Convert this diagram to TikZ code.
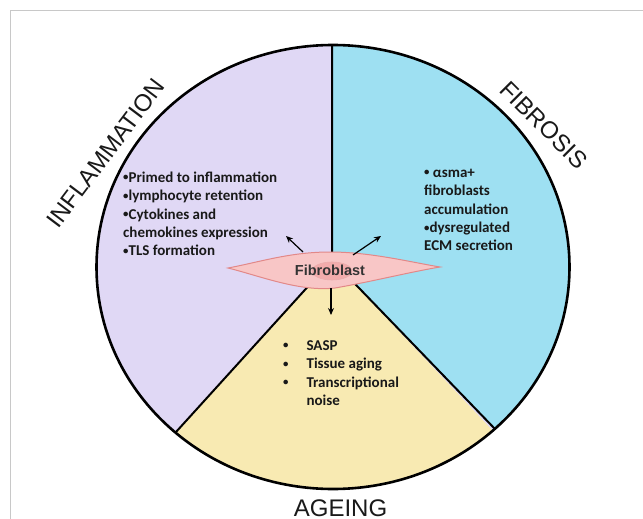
\documentclass[tikz,border=0pt]{standalone}
\usepackage{fontspec}
\usepackage{graphicx}
\setmainfont{Liberation Sans}
\newfontfamily\bodyfont{Carlito}
\usetikzlibrary{arrows.meta}

\definecolor{lavender}{RGB}{224,216,245}
\definecolor{skyblue}{RGB}{158,224,242}
\definecolor{sand}{RGB}{248,234,178}
\definecolor{cellfill}{RGB}{248,198,198}
\definecolor{cellline}{RGB}{226,136,136}
\definecolor{nucfill}{RGB}{242,172,172}
\definecolor{framegray}{RGB}{200,200,200}
\definecolor{ink}{RGB}{25,25,25}

% small list bullet
\newcommand{\smalldot}{\raisebox{0.18ex}{\scalebox{0.72}{•}}}

\tikzset{
  listtext/.style={font=\bodyfont\bfseries\fontsize{15}{18.5}\selectfont,
    text=ink, inner sep=0pt, anchor=base west},
  sectorlabel/.style={font=\fontsize{24}{28}\selectfont, text=ink, inner sep=0pt},
  divider/.style={line width=2pt, black},
  outline/.style={line width=2.6pt, black},
  pointer/.style={line width=1.2pt, black, -{Stealth[length=7pt,width=6pt]}},
}

\begin{document}
\begin{tikzpicture}[x=1pt,y=-1pt]
  \useasboundingbox (0,0) rectangle (643,519);

  % light frame around the figure
  \draw[framegray, line width=1pt] (10,530) -- (10,11) -- (660,11);

  % three sectors of the disc
  \begin{scope}
    \clip (333,267) ellipse [x radius=236.5pt, y radius=222pt];
    \fill[lavender] (0,0) rectangle (643,519);
    \fill[skyblue] (332,0) -- (332,260) -- (576,513) -- (643,519) -- (643,0) -- cycle;
    \fill[sand] (332,260) -- (98,518) -- (576,519) -- cycle;
  \end{scope}

  \coordinate (hub) at (332,260);
  \coordinate (top) at (332,45);
  \coordinate (lowleft) at (176,432);
  \coordinate (lowright) at (495,429);
  \draw[divider] (top) -- (hub) -- (lowleft);
  \draw[divider] (hub) -- (lowright);
  \draw[outline] (333,267) ellipse [x radius=236.5pt, y radius=222pt];

  % sector titles
  \node[sectorlabel, rotate=53] (inflabel) at (105.5,153) {INFLAMMATION};
  \node[sectorlabel, rotate=-45] (fiblabel) at (544,125) {FIBROSIS};
  \node[sectorlabel, anchor=base] (agelabel) at (340.5,516) {AGEING};

  % fibroblast cell
  \draw[cellline, fill=cellfill, line width=1pt]
    (228,268) .. controls (260,262) and (290,252) .. (330,252)
              .. controls (370,252) and (410,262) .. (440,267)
              .. controls (410,272) and (370,282) .. (335,288)
              .. controls (300,292) and (260,276) .. (228,268) -- cycle;
  \draw[cellline!70, fill=nucfill, line width=0.6pt] (332,271) ellipse [x radius=20pt, y radius=9pt];
  \node[font=\bfseries\fontsize{14.5}{17}\selectfont, text=black!80, inner sep=0pt] (fib) at (330,270) {Fibroblast};

  % arrows out of the cell
  \coordinate (tailA) at (303,252);
  \coordinate (tipA) at (286,236);
  \coordinate (tailB) at (353,255);
  \coordinate (tipB) at (381,236);
  \coordinate (tailC) at (331,288);
  \coordinate (tipC) at (331,315);
  \draw[pointer] (tailA) -- (tipA);
  \draw[pointer] (tailB) -- (tipB);
  \draw[pointer] (tailC) -- (tipC);

  % sector texts
  \node[listtext] (inftext) at (123,182) {\begin{tabular}[t]{@{}l@{}}
    \smalldot Primed to inflammation\\
    \smalldot lymphocyte retention\\
    \smalldot Cytokines and\\
    chemokines expression\\
    \smalldot TLS formation
  \end{tabular}};

  \node[listtext] (fibtext) at (424,177) {\begin{tabular}[t]{@{}l@{}}
    \smalldot{} αsma+\\
    fibroblasts\\
    accumulation\\
    \smalldot dysregulated\\
    ECM secretion
  \end{tabular}};

  \node[listtext] (agetext) at (283,350) {\begin{tabular}[t]{@{}l@{\hspace{18pt}}l@{}}
    \smalldot & SASP\\
    \smalldot & Tissue aging\\
    \smalldot & Transcriptional\\
      & noise
  \end{tabular}};
\end{tikzpicture}
\end{document}
